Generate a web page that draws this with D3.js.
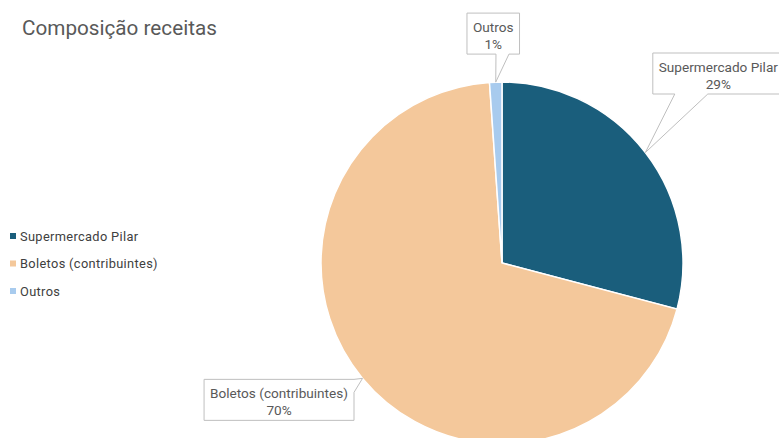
<!DOCTYPE html>
<html>
<head>
<meta charset="utf-8">
<script src="https://cdn.jsdelivr.net/npm/d3@7"></script>
<style>
  body { margin: 0; background: #fff; }
  svg { display: block; font-family: Roboto, 'Noto Sans', sans-serif; }
</style>
</head>
<body>
<div id="chart"></div>
<script>
const categories = ['Supermercado Pilar', 'Boletos (contribuintes)', 'Outros'];
const values = [29.1, 69.8, 1.1];
const colors = ['#1a5e7c', '#f4c89b', '#a8cbee'];

// callout placement relative to the point on the slice edge
const callouts = [
  { dx: 73, dy: -79, side: 'bottom', b1: 22, b2: 55 },
  { dx: -83.5, dy: 21.5, side: 'right', b1: 0, b2: 13 },
  { dx: -2.5, dy: -48.5, side: 'bottom', b1: 29, b2: 42 }
];

const width = 779;
const height = 438;
const cx = 502;
const cy = 263;
const radius = 181;

const svg = d3.select('#chart')
  .append('svg')
  .attr('width', width)
  .attr('height', height);

// Title
svg.append('text')
  .attr('x', 22)
  .attr('y', 35)
  .attr('font-size', 20.7)
  .attr('fill', '#595959')
  .text('Composição receitas');

const data = categories.map((name, i) => ({ name, value: values[i], color: colors[i], i }));
const total = d3.sum(values);

const pie = d3.pie().sort(null).value((d) => d.value);
const arc = d3.arc().innerRadius(0).outerRadius(radius);
const arcs = pie(data);

const chart = svg.append('g').attr('transform', `translate(${cx}, ${cy})`);

chart.selectAll('path')
  .data(arcs).enter()
  .append('path')
  .attr('d', arc)
  .attr('fill', (d) => d.data.color)
  .attr('stroke', '#fff')
  .attr('stroke-width', 1.5);

// Callout labels
const labels = svg.append('g');
arcs.forEach((a) => {
  const mid = (a.startAngle + a.endAngle) / 2;
  const tx = cx + radius * Math.sin(mid);
  const ty = cy - radius * Math.cos(mid);
  const c = callouts[a.data.i];
  const bx = tx + c.dx;
  const by = ty + c.dy;
  const pct = `${Math.round((a.data.value / total) * 100)}%`;

  const g = labels.append('g');
  const shape = g.append('path');
  const t1 = g.append('text')
    .attr('x', bx).attr('y', by - 1.5)
    .attr('text-anchor', 'middle')
    .attr('font-size', 13.6)
    .attr('fill', '#595959')
    .text(a.data.name);
  g.append('text')
    .attr('x', bx).attr('y', by + 15.5)
    .attr('text-anchor', 'middle')
    .attr('font-size', 13.6)
    .attr('fill', '#595959')
    .text(pct);

  const w = t1.node().getComputedTextLength() + 12;
  const h = 41;
  const x0 = bx - w / 2;
  const x1 = bx + w / 2;
  const y0 = by - h / 2;
  const y1 = by + h / 2;
  let p;
  if (c.side === 'bottom') {
    p = `M${x0},${y0}L${x1},${y0}L${x1},${y1}L${x0 + c.b2},${y1}L${tx},${ty}L${x0 + c.b1},${y1}L${x0},${y1}Z`;
  } else {
    p = `M${x0},${y0}L${x1},${y0}L${x1},${y0 + c.b1}L${tx},${ty}L${x1},${y0 + c.b2}L${x1},${y1}L${x0},${y1}Z`;
  }
  shape.attr('d', p)
    .attr('fill', '#fff')
    .attr('stroke', '#bfbfbf')
    .attr('stroke-width', 1);
});

// Legend
const legend = svg.append('g').attr('transform', 'translate(10, 236)');
const items = legend.selectAll('g')
  .data(data).enter()
  .append('g')
  .attr('transform', (d, i) => `translate(0, ${i * 27.5})`);

items.append('rect')
  .attr('x', 0).attr('y', -3)
  .attr('width', 6).attr('height', 6)
  .attr('fill', (d) => d.color);

items.append('text')
  .attr('x', 10).attr('y', 4.5)
  .attr('font-size', 12.8)
  .attr('letter-spacing', 0.35)
  .attr('fill', '#404040')
  .text((d) => d.name);
</script>
</body>
</html>
